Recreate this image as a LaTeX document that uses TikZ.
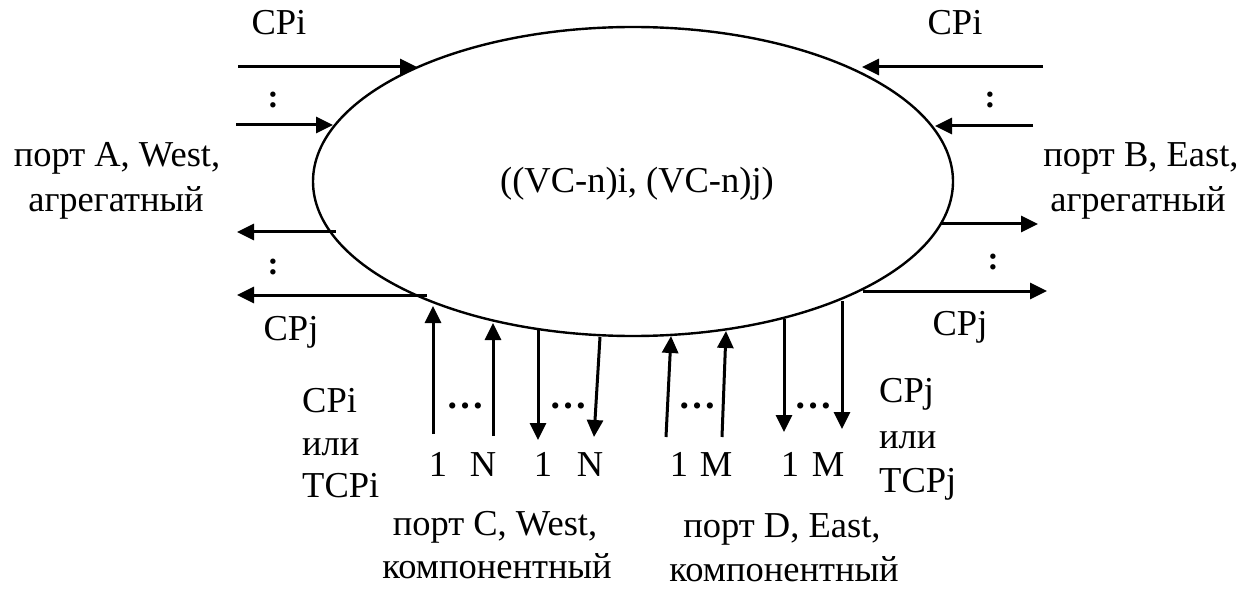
\documentclass[tikz,border=0pt]{standalone}
\usepackage{fontspec}
\setmainfont{Liberation Serif}
\usetikzlibrary{arrows.meta,shapes.geometric}
\begin{document}
\begin{tikzpicture}[x=1pt,y=-1pt,
  lbl/.style={inner sep=0pt, font=\fontsize{36.5}{42}\selectfont},
  vdots/.style={inner sep=0pt, font=\fontsize{33}{36}\selectfont\bfseries},
  hdots/.style={inner sep=0pt, font=\fontsize{38}{42}\selectfont\bfseries},
  sig/.style={line width=3pt, -{Triangle[length=17pt,width=16pt]}},
]
\useasboundingbox (0,0) rectangle (1253,604);

% the cross-connect block
\node[draw, line width=2.4pt, ellipse, minimum width=640pt, minimum height=309pt, inner sep=0pt] (cc) at (633,181.5) {};
\node[lbl, anchor=base] (cctext) at (637,193) {((VC-n)i, (VC-n)j)};

% port A (west, aggregate)
\coordinate (ai1) at (238,67);  \coordinate (ai1e) at (417,67);
\coordinate (ai2) at (236,125); \coordinate (ai2e) at (333,125);
\coordinate (ao1e) at (336,232); \coordinate (ao1) at (237,232);
\coordinate (ao2e) at (427,295); \coordinate (ao2) at (237,295);
\draw[sig] (ai1) -- (ai1e);
\draw[sig] (ai2) -- (ai2e);
\draw[sig] (ao1e) -- (ao1);
\draw[sig] (ao2e) -- (ao2);
\node[vdots] (adots1) at (273,100) {:};
\node[vdots] (adots2) at (273,267) {:};
\node[lbl, anchor=base] (acpi) at (279,35) {CPi};
\node[lbl, anchor=base] (acpj) at (291,340) {CPj};
\node[lbl, anchor=base] (aname1) at (117,167) {порт A, West,};
\node[lbl, anchor=base] (aname2) at (116,212) {агрегатный};

% port B (east, aggregate)
\coordinate (bi1) at (1043,67);  \coordinate (bi1e) at (862,67);
\coordinate (bi2) at (1033,126); \coordinate (bi2e) at (935,126);
\coordinate (bo1e) at (941,224); \coordinate (bo1) at (1038,224);
\coordinate (bo2e) at (863,291); \coordinate (bo2) at (1047,291);
\draw[sig] (bi1) -- (bi1e);
\draw[sig] (bi2) -- (bi2e);
\draw[sig] (bo1e) -- (bo1);
\draw[sig] (bo2e) -- (bo2);
\node[vdots] (bdots1) at (990,100) {:};
\node[vdots] (bdots2) at (993,262) {:};
\node[lbl, anchor=base] (bcpi) at (955,35) {CPi};
\node[lbl, anchor=base] (bcpj) at (960,335) {CPj};
\node[lbl, anchor=base] (bname1) at (1141,167) {порт B, East,};
\node[lbl, anchor=base] (bname2) at (1138,212) {агрегатный};

% port C (west, component)
\coordinate (ci1) at (433,434); \coordinate (ci1e) at (433,306);
\coordinate (ci2) at (493,436); \coordinate (ci2e) at (493,323);
\coordinate (co1e) at (538,328); \coordinate (co1) at (538,440);
\coordinate (co2e) at (600,337); \coordinate (co2) at (594,437);
\draw[sig] (ci1) -- (ci1e);
\draw[sig] (ci2) -- (ci2e);
\draw[sig] (co1e) -- (co1);
\draw[sig] (co2e) -- (co2);
\node[hdots] (cdots1) at (465,406) {…};
\node[hdots] (cdots2) at (568,406) {…};
\node[lbl, anchor=base] (cn1) at (438,476) {1};
\node[lbl, anchor=base] (cn2) at (483,476) {N};
\node[lbl, anchor=base] (cn3) at (543,476) {1};
\node[lbl, anchor=base] (cn4) at (590,476) {N};
\node[lbl, anchor=base west] (csig1) at (302,412) {CPi};
\node[lbl, anchor=base west] (csig2) at (302,455) {или};
\node[lbl, anchor=base west] (csig3) at (302,497) {TCPi};
\node[lbl, anchor=base] (cname1) at (495,535) {порт C, West,};
\node[lbl, anchor=base] (cname2) at (497,578) {компонентный};

% port D (east, component)
\coordinate (di1) at (666,437); \coordinate (di1e) at (671,336);
\coordinate (di2) at (722,437); \coordinate (di2e) at (726,331);
\coordinate (do1e) at (784,319); \coordinate (do1) at (784,432);
\coordinate (do2e) at (842,301); \coordinate (do2) at (842,429);
\draw[sig] (di1) -- (di1e);
\draw[sig] (di2) -- (di2e);
\draw[sig] (do1e) -- (do1);
\draw[sig] (do2e) -- (do2);
\node[hdots] (ddots1) at (697,406) {…};
\node[hdots] (ddots2) at (813,406) {…};
\node[lbl, anchor=base] (dn1) at (679,476) {1};
\node[lbl, anchor=base] (dn2) at (716,476) {M};
\node[lbl, anchor=base] (dn3) at (790,476) {1};
\node[lbl, anchor=base] (dn4) at (828,476) {M};
\node[lbl, anchor=base west] (dsig1) at (879,402) {CPj};
\node[lbl, anchor=base west] (dsig2) at (879,448) {или};
\node[lbl, anchor=base west] (dsig3) at (879,492) {TCPj};
\node[lbl, anchor=base] (dname1) at (782,537) {порт D, East,};
\node[lbl, anchor=base] (dname2) at (784,581) {компонентный};
\end{tikzpicture}
\end{document}
